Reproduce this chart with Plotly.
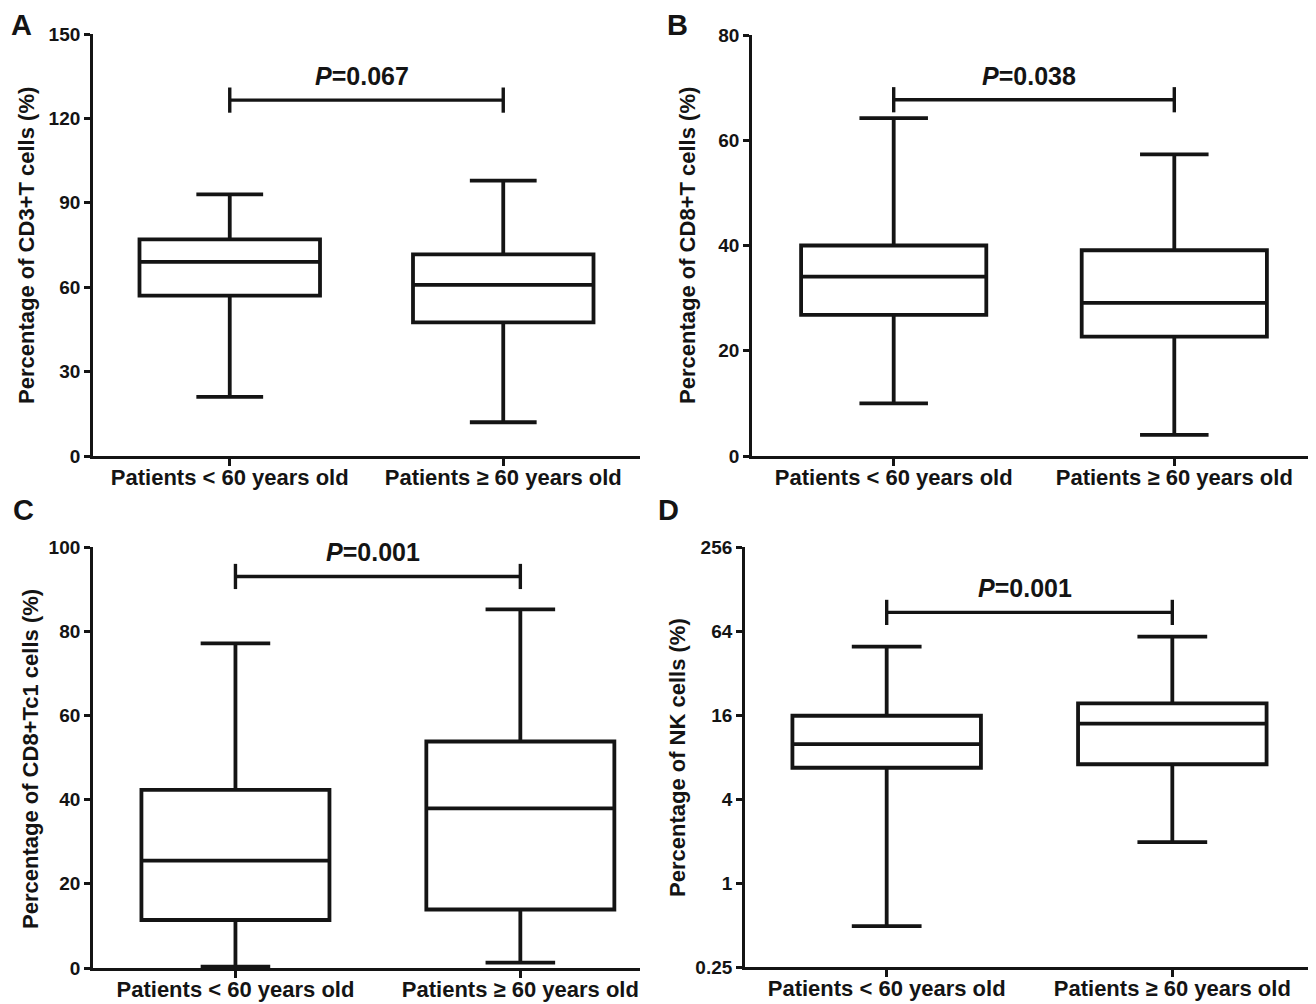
import math
import plotly.graph_objects as go

# ---------------- data ----------------
groups = ["Patients < 60 years old", "Patients ≥ 60 years old"]

# Panel A: CD3+T cells (%)
a_min = [21, 12]
a_q1 = [57, 47.5]
a_med = [69, 60.8]
a_q3 = [77, 71.7]
a_max = [93, 97.9]
a_p = "0.067"
a_bracket = 126.5

# Panel B: CD8+T cells (%)
b_min = [10, 4]
b_q1 = [26.8, 22.7]
b_med = [34.1, 29.1]
b_q3 = [40, 39.1]
b_max = [64.2, 57.3]
b_p = "0.038"
b_bracket = 67.7

# Panel C: CD8+Tc1 cells (%)
c_min = [0.3, 1.3]
c_q1 = [11.4, 13.9]
c_med = [25.5, 37.9]
c_q3 = [42.3, 53.8]
c_max = [77.1, 85.2]
c_p = "0.001"
c_bracket = 93.0

# Panel D: NK cells (%) (log2 axis)
d_min = [0.49, 1.96]
d_q1 = [6.7, 7.1]
d_med = [9.9, 13.9]
d_q3 = [15.8, 19.4]
d_max = [49.4, 58.3]
d_p = "0.001"
d_bracket = 87

a_ticks = [0, 30, 60, 90, 120, 150]
b_ticks = [0, 20, 40, 60, 80]
c_ticks = [0, 20, 40, 60, 80, 100]
d_ticks = [0.25, 1, 4, 16, 64, 256]
d_ticktext = ["0.25", "1", "4", "16", "64", "256"]

titles = ["Percentage of CD3+T cells (%)", "Percentage of CD8+T cells (%)",
          "Percentage of CD8+Tc1 cells (%)", "Percentage of NK cells (%)"]
letters = ["A", "B", "C", "D"]

# ---------------- figure geometry (page pixels) ----------------
OX, OY = 8, 8          # default page body margin
W, H = 1308, 996       # figure reaches the right / bottom window edges


def px(x):
    return (x - OX) / W


def py(y):
    return 1 - (y - OY) / H


FONT = "Liberation Sans, Arial, Helvetica, sans-serif"
INK = "#141414"

fig = go.Figure()

panels = [
    dict(mn=a_min, q1=a_q1, med=a_med, q3=a_q3, mx=a_max, p=a_p, br=a_bracket, ax="1",
         xdom=(93, 640), ydom=(34, 456), xr=(-0.5, 1.5), yr=(0, 150), ticks=a_ticks, log=False),
    dict(mn=b_min, q1=b_q1, med=b_med, q3=b_q3, mx=b_max, p=b_p, br=b_bracket, ax="2",
         xdom=(752, 1316), ydom=(35, 456), xr=(-0.505, 1.505), yr=(0, 80), ticks=b_ticks, log=False),
    dict(mn=c_min, q1=c_q1, med=c_med, q3=c_q3, mx=c_max, p=c_p, br=c_bracket, ax="3",
         xdom=(93, 640), ydom=(547, 968), xr=(-0.5, 1.42), yr=(0, 100), ticks=c_ticks, log=False),
    dict(mn=d_min, q1=d_q1, med=d_med, q3=d_q3, mx=d_max, p=d_p, br=d_bracket, ax="4",
         xdom=(745, 1316), ydom=(547, 967), xr=(-0.496, 1.503),
         yr=(math.log10(0.25), math.log10(256)), ticks=d_ticks, log=True),
]

title_pos = [(27, 246), (688, 245), (30, 759), (677, 758)]
letter_pos = [(21, 25), (677, 25), (23, 510), (668, 510)]

layout = {}
for i, pn in enumerate(panels):
    ax = pn["ax"]
    xa = "x" if ax == "1" else "x" + ax
    ya = "y" if ax == "1" else "y" + ax
    fig.add_trace(go.Box(
        x=[0, 1], q1=pn["q1"], median=pn["med"], q3=pn["q3"],
        lowerfence=pn["mn"], upperfence=pn["mx"],
        width=0.66, whiskerwidth=0.37, boxpoints=False,
        fillcolor="white", line=dict(color=INK, width=3.8),
        xaxis=xa, yaxis=ya, showlegend=False, hoverinfo="skip",
    ))
    # significance bracket
    fig.add_trace(go.Scatter(
        x=[0, 1], y=[pn["br"], pn["br"]], mode="lines+markers",
        line=dict(color=INK, width=3.4),
        marker=dict(symbol="line-ns", size=18, line=dict(color=INK, width=3.4)),
        xaxis=xa, yaxis=ya, showlegend=False, hoverinfo="skip",
    ))
    ybr = math.log10(pn["br"]) if pn["log"] else pn["br"]
    fig.add_annotation(
        x=0.5, y=ybr, xref=xa, yref=ya, yanchor="bottom", yshift=8, xshift=-5,
        text="<i>P</i>=" + pn["p"], showarrow=False,
        font=dict(family=FONT, size=25, color=INK, weight="bold"),
    )
    x0, x1 = pn["xdom"]
    y0, y1 = pn["ydom"]
    xkey = "xaxis" if ax == "1" else "xaxis" + ax
    ykey = "yaxis" if ax == "1" else "yaxis" + ax
    layout[xkey] = dict(
        domain=[px(x0), min(1.0, px(x1))], range=list(pn["xr"]), anchor=ya, automargin=False,
        tickvals=[0, 1], ticktext=groups, showline=True, linewidth=2.8, linecolor=INK,
        ticks="outside", ticklen=7, tickwidth=2.8, tickcolor=INK, ticklabelstandoff=-7,
        showgrid=False, zeroline=False,
        tickfont=dict(family=FONT, size=22, color=INK, weight="bold"),
    )
    ydict = dict(
        domain=[py(y1), py(y0)], range=list(pn["yr"]), anchor=xa, automargin=False,
        tickvals=pn["ticks"], showline=True, linewidth=2.8, linecolor=INK,
        ticks="outside", ticklen=6, tickwidth=2.8, tickcolor=INK,
        showgrid=False, zeroline=False,
        tickfont=dict(family=FONT, size=19, color=INK, weight="bold"),
    )
    if pn["log"]:
        ydict["type"] = "log"
        ydict["ticktext"] = d_ticktext
    layout[ykey] = ydict

    tx, ty = title_pos[i]
    fig.add_annotation(
        x=px(tx), y=py(ty), xref="paper", yref="paper", textangle=-90,
        text=titles[i], showarrow=False, xanchor="center", yanchor="middle",
        font=dict(family=FONT, size=22, color=INK, weight="bold"),
    )
    lx, ly = letter_pos[i]
    fig.add_annotation(
        x=px(lx), y=py(ly), xref="paper", yref="paper",
        text=letters[i], showarrow=False, xanchor="center", yanchor="middle",
        font=dict(family=FONT, size=29, color=INK, weight="bold"),
    )

fig.update_layout(
    width=W, height=H, margin=dict(l=0, r=0, t=0, b=0, pad=0), autosize=False,
    paper_bgcolor="white", plot_bgcolor="white",
    **layout,
)

fig.write_html("out.html")
